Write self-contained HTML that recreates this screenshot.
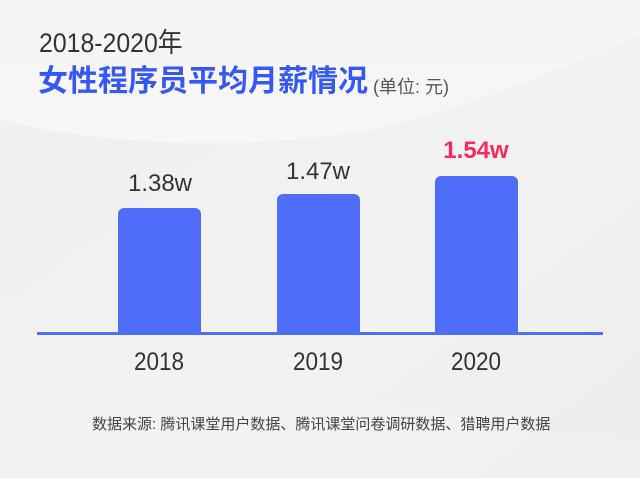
<!DOCTYPE html>
<html><head><meta charset="utf-8">
<style>
html,body{margin:0;padding:0;}
body{width:640px;height:478px;position:relative;overflow:hidden;background:#efefef;font-family:"Liberation Sans","Noto Sans CJK SC",sans-serif;}
.a{position:absolute;white-space:nowrap;line-height:1;}
.bar{position:absolute;background:#4f6ef8;border-radius:6px 6px 0 0;}
</style></head><body>
<svg class="a" style="left:0;top:0" width="640" height="478" viewBox="0 0 640 478">
<defs>
<linearGradient id="g1" x1="0" y1="0" x2="0" y2="1"><stop offset="0" stop-color="#f4f4f4"/><stop offset="1" stop-color="#f7f7f7"/></linearGradient>
<linearGradient id="g2" x1="0" y1="0" x2="1" y2="1"><stop offset="0" stop-color="#efefef"/><stop offset="0.6" stop-color="#f2f2f2"/><stop offset="1" stop-color="#ededed"/></linearGradient>
</defs>
<rect width="640" height="478" fill="url(#g2)"/>
<path d="M0,0 L0,120 C120,150 300,152 420,118 C500,95 580,60 640,35 L640,0 Z" fill="url(#g1)"/>
<path d="M0,300 C200,360 420,420 640,440 L640,478 L0,478 Z" fill="#f1f1f1" opacity="0.6"/>
</svg>

<div class="a" style="left:39px;top:30px;font-size:27px;color:#333;transform:scaleX(0.92);transform-origin:0 0;">2018-2020年</div>
<div class="a" style="left:38px;top:67px;font-size:30px;font-weight:bold;color:#3558f5;">女性程序员平均月薪情况</div>
<div class="a" style="left:373px;top:78px;font-size:18px;color:#555;">(单位: 元)</div>

<div class="bar" style="left:118px;top:208px;width:83px;height:126px;"></div>
<div class="bar" style="left:277px;top:194px;width:83px;height:140px;"></div>
<div class="bar" style="left:435px;top:176px;width:83px;height:158px;"></div>
<div class="a" style="left:37px;top:332px;width:566px;height:3px;background:#4f6ef8;"></div>

<div class="a" style="left:100px;width:120px;text-align:center;top:172px;font-size:24px;color:#333;">1.38w</div>
<div class="a" style="left:258px;width:120px;text-align:center;top:160px;font-size:24px;color:#333;">1.47w</div>
<div class="a" style="left:416px;width:120px;text-align:center;top:139px;font-size:24px;font-weight:bold;color:#fb2a5c;">1.54w</div>

<div class="a" style="left:99px;width:120px;text-align:center;top:350px;font-size:25px;color:#333;transform:scaleX(0.9);">2018</div>
<div class="a" style="left:258px;width:120px;text-align:center;top:350px;font-size:25px;color:#333;transform:scaleX(0.9);">2019</div>
<div class="a" style="left:416px;width:120px;text-align:center;top:350px;font-size:25px;color:#333;transform:scaleX(0.9);">2020</div>

<div class="a" style="left:92px;top:417px;font-size:15px;color:#444;">数据来源: 腾讯课堂用户数据、腾讯课堂问卷调研数据、猎聘用户数据</div>
</body></html>
